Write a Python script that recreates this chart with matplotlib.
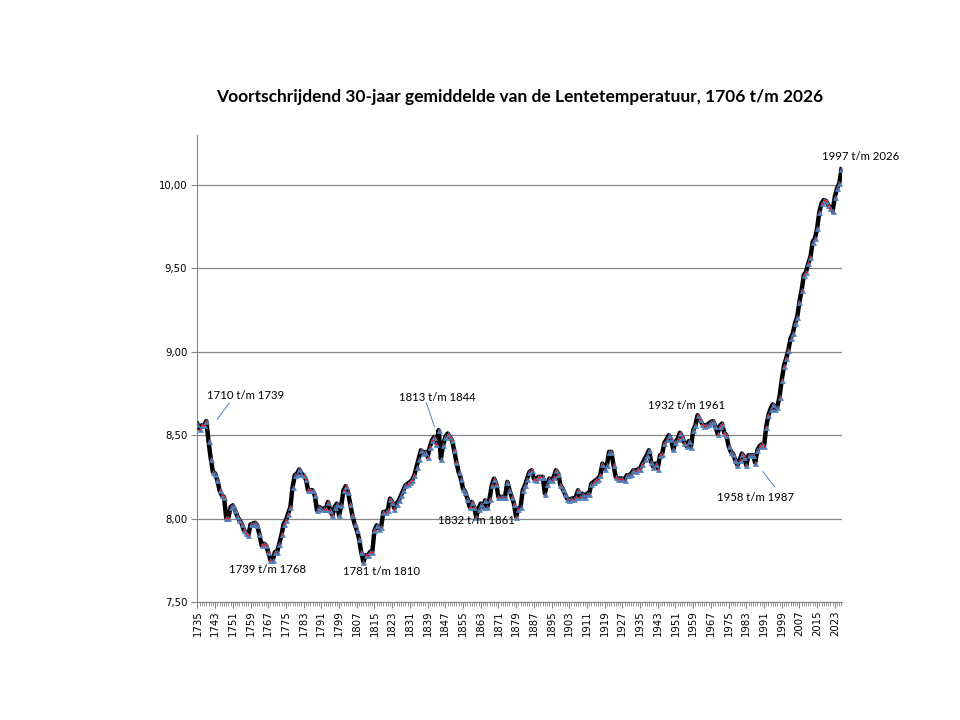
import numpy as np
import matplotlib.pyplot as plt
from matplotlib.ticker import FuncFormatter, MultipleLocator

years = np.arange(1735, 2027)
temp = [8.567, 8.54, 8.56, 8.56, 8.585, 8.465, 8.36, 8.28, 8.27, 8.23,
        8.17, 8.14, 8.13, 8.005, 8.005, 8.07, 8.08, 8.05, 8.015, 7.99,
        7.97, 7.93, 7.915, 7.90, 7.965, 7.97, 7.975, 7.96, 7.905, 7.84,
        7.85, 7.84, 7.80, 7.75, 7.75, 7.80, 7.80, 7.85, 7.905, 7.97,
        7.99, 8.03, 8.07, 8.19, 8.26, 8.27, 8.295, 8.27, 8.26, 8.235,
        8.17, 8.17, 8.17, 8.14, 8.05, 8.07, 8.06, 8.06, 8.06, 8.10,
        8.05, 8.02, 8.07, 8.09, 8.02, 8.08, 8.17, 8.195, 8.16, 8.09,
        8.02, 7.97, 7.93, 7.88, 7.80, 7.74, 7.78, 7.78, 7.80, 7.80,
        7.93, 7.96, 7.94, 7.95, 8.04, 8.04, 8.05, 8.12, 8.10, 8.06,
        8.09, 8.11, 8.14, 8.17, 8.20, 8.21, 8.22, 8.23, 8.26, 8.31,
        8.36, 8.41, 8.395, 8.40, 8.37, 8.43, 8.47, 8.49, 8.45, 8.53,
        8.36, 8.44, 8.49, 8.51, 8.49, 8.47, 8.41, 8.34, 8.28, 8.24,
        8.18, 8.16, 8.12, 8.07, 8.10, 8.07, 8.01, 8.06, 8.09, 8.07,
        8.11, 8.07, 8.12, 8.20, 8.24, 8.21, 8.13, 8.13, 8.13, 8.13,
        8.22, 8.17, 8.13, 8.09, 8.01, 8.06, 8.07, 8.17, 8.20, 8.24,
        8.28, 8.29, 8.24, 8.23, 8.25, 8.25, 8.25, 8.15, 8.21, 8.24,
        8.23, 8.25, 8.29, 8.27, 8.20, 8.18, 8.15, 8.12, 8.11, 8.12,
        8.12, 8.13, 8.17, 8.13, 8.15, 8.13, 8.15, 8.15, 8.21, 8.22,
        8.23, 8.24, 8.26, 8.33, 8.30, 8.32, 8.40, 8.40, 8.32, 8.25,
        8.24, 8.24, 8.24, 8.23, 8.26, 8.26, 8.27, 8.29, 8.287, 8.295,
        8.30, 8.33, 8.355, 8.38, 8.41, 8.34, 8.31, 8.33, 8.30, 8.38,
        8.39, 8.455, 8.475, 8.50, 8.475, 8.415, 8.46, 8.48, 8.515, 8.49,
        8.455, 8.435, 8.465, 8.43, 8.53, 8.56, 8.62, 8.595, 8.57, 8.555,
        8.56, 8.57, 8.58, 8.585, 8.555, 8.51, 8.555, 8.57, 8.515, 8.50,
        8.435, 8.40, 8.39, 8.35, 8.32, 8.35, 8.39, 8.37, 8.32, 8.38,
        8.38, 8.38, 8.335, 8.41, 8.435, 8.445, 8.435, 8.55, 8.62, 8.66,
        8.685, 8.66, 8.67, 8.73, 8.83, 8.915, 8.96, 9.01, 9.08, 9.11,
        9.17, 9.21, 9.30, 9.37, 9.46, 9.48, 9.53, 9.57, 9.66, 9.68,
        9.74, 9.84, 9.89, 9.91, 9.905, 9.88, 9.865, 9.845, 9.93, 9.98,
        10.01, 10.095]

# labels: (text, x, y, leader start, leader end)
labels = [("1710 t/m 1739", 1739.5, 8.74, (1750.2, 8.707), (1743.1, 8.581), 'left'),
          ("1739 t/m 1768", 1766.6, 7.692, None, None, 'center'),
          ("1781 t/m 1810", 1818.1, 7.68, None, None, 'center'),
          ("1813 t/m 1844", 1843.5, 8.729, (1838.0, 8.711), (1842.5, 8.535), 'center'),
          ("1832 t/m 1861", 1861.1, 7.99, None, None, 'center'),
          ("1932 t/m 1961", 1956.0, 8.681, None, None, 'center'),
          ("1958 t/m 1987", 1987.1, 8.129, (1989.7, 8.296), (1996.6, 8.176), 'center'),
          ("1997 t/m 2026", 2034.6, 10.174, None, None, 'center')]

fig = plt.figure(figsize=(9.6, 7.2), dpi=100)
ax = fig.add_axes([0.2052, 0.1639, 0.877 - 0.2052, 0.8125 - 0.1639])

ax.plot(years, temp, color='black', lw=3.2, solid_joinstyle='round', zorder=3)
ax.plot(years, temp, ls='none', marker='^', ms=3.6, mew=0.5, color='#4F81BD', zorder=4)
ax.plot(years, temp, ls='none', marker='o', ms=1.2, mew=0, color='red', zorder=5)

ax.set_xlim(1734.8, 2026.2)
ax.set_ylim(7.5, 10.3)
ax.yaxis.set_major_locator(MultipleLocator(0.5))
ax.yaxis.set_major_formatter(FuncFormatter(lambda v, p: ('%.2f' % v).replace('.', ',')))
ax.set_xticks(years[::8])
ax.set_xticks(years, minor=True)
ax.tick_params(axis='x', which='major', labelrotation=90, labelsize=7.3, length=4, color='#868686', pad=2)
ax.tick_params(axis='x', which='minor', length=3, color='#868686', width=0.6)
ax.tick_params(axis='y', labelsize=7.3, length=4, color='#868686', pad=3)
ax.grid(axis='y', color='#868686', lw=0.9)
ax.set_axisbelow(True)
for s in ['top', 'right']:
    ax.spines[s].set_visible(False)
for s in ['left', 'bottom']:
    ax.spines[s].set_color('#868686')

for txt, x, y, p0, p1, ha in labels:
    ax.text(x, y, txt, ha=ha, va='center', fontsize=8.2, family='Lato', zorder=6)
    if p0 is not None:
        ax.annotate('', xy=p1, xytext=p0,
                    arrowprops=dict(arrowstyle='-', color='#4F81BD', lw=0.7))

fig.text(0.541, 0.865, 'Voortschrijdend 30-jaar gemiddelde van de Lentetemperatuur, 1706 t/m 2026',
         ha='center', va='center', fontsize=12.5, fontweight='bold', family='Lato')

plt.savefig('out.png', dpi=100)
